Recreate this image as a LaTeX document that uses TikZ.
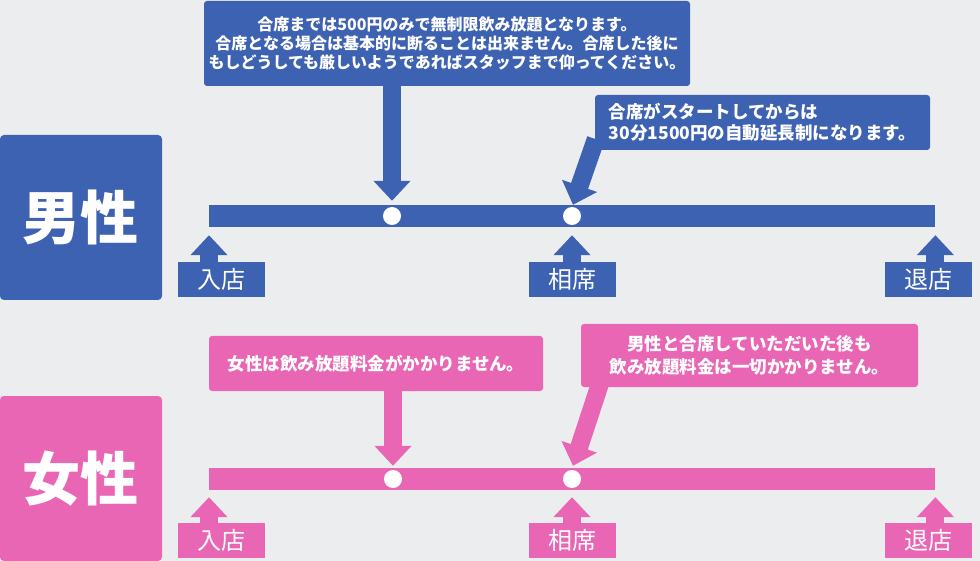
\documentclass[tikz,border=0pt]{standalone}
\usepackage{fontspec}
\newfontfamily\jp{Noto Sans CJK JP}
\usepackage{tikz}
\usetikzlibrary{ arrows.meta, calc, positioning }
\definecolor{mblue}{RGB}{62,98,178}
\definecolor{fpink}{RGB}{233,102,180}
\definecolor{bggray}{RGB}{236,237,239}
\tikzset{
every node/.style={inner sep=0pt, text=white}, % white text on coloured boxes
sexbox/.style={rounded corners=4pt, minimum width=162pt, minimum height=165pt, font=\jp\bfseries\fontsize{58}{58}\selectfont},
bar/.style={minimum width=726pt, minimum height=22pt},
dot/.style={circle, fill=white, minimum size=18pt},
note/.style={rounded corners=3pt, align=center, font=\jp\bfseries\fontsize{17.5}{22}\selectfont},
stepbox/.style={minimum width=87pt, minimum height=35pt, font=\jp\fontsize{24}{24}\selectfont},
fatarrow/.style={line width=18pt, -{Triangle[length=20pt, width=36pt]}},
}

\begin{document}
\begin{tikzpicture}[x=1pt, y=-1pt]
  \fill[bggray] (0,0) rectangle (980,561);

  % men
  \node[sexbox, fill=mblue] (male) at (81,217.5) {男性};
  \node[bar, fill=mblue, anchor=west] (mbar) at (209,216) {};
  \node[dot] (mdot1) at (392,216) {};
  \node[dot] (mdot2) at (572,216) {};
  \node[note, fill=mblue, minimum width=486pt, minimum height=85pt, font=\jp\bfseries\fontsize{16}{19}\selectfont] (mnote1) at (447,43.5)
    {合席までは500円のみで無制限飲み放題となります。\\合席となる場合は基本的に断ることは出来ません。合席した後に\\もしどうしても厳しいようであればスタッフまで仰ってください。};
  \node[note, fill=mblue, align=left, minimum width=335pt, minimum height=55pt, font=\jp\bfseries\fontsize{17.5}{21}\selectfont] (mnote2) at (762.5,122.5)
    {合席がスタートしてからは\\30分1500円の自動延長制になります。};
  \node[stepbox, fill=mblue] (min) at (221.5,279.5) {入店};
  \node[stepbox, fill=mblue] (mseat) at (572.5,279.5) {相席};
  \node[stepbox, fill=mblue] (mout) at (928.5,279.5) {退店};

  \draw[fatarrow, mblue] (mnote1.south -| mdot1) -- ($(mdot1 |- mbar.north)+(0,-4)$);
  \draw[fatarrow, mblue] ($(mnote2.south west)+(1,-11)$) -- ($(mdot2 |- mbar.north)+(1,0)$);
  \draw[fatarrow, mblue] (min.north -| mbar.west) -- ($(mbar.south west)+(0,8)$);
  \draw[fatarrow, mblue] (mseat.north -| mdot2) -- ($(mdot2 |- mbar.south)+(0,8)$);
  \draw[fatarrow, mblue] (mout.north -| mbar.east) -- ($(mbar.south east)+(0,8)$);

  % women
  \node[sexbox, fill=fpink] (female) at (81,478.5) {女性};
  \node[bar, fill=fpink, anchor=west] (fbar) at (209,479) {};
  \node[dot] (fdot1) at (393,479) {};
  \node[dot] (fdot2) at (572,479) {};
  \node[note, fill=fpink, minimum width=334pt, minimum height=55pt] (fnote1) at (376,363.5)
    {女性は飲み放題料金がかかりません。};
  \node[note, fill=fpink, minimum width=337pt, minimum height=63pt, font=\jp\bfseries\fontsize{17.5}{23}\selectfont] (fnote2) at (749.5,355.5)
    {男性と合席していただいた後も\\飲み放題料金は一切かかりません。};
  \node[stepbox, fill=fpink] (fin) at (221.5,540.5) {入店};
  \node[stepbox, fill=fpink] (fseat) at (572.5,540.5) {相席};
  \node[stepbox, fill=fpink] (fout) at (928.5,540.5) {退店};

  \draw[fatarrow, fpink] (fnote1.south -| fdot1) -- ($(fdot1 |- fbar.north)+(0,-2)$);
  \draw[fatarrow, fpink] ($(fnote2.south west)+(21,-9)$) -- ($(fdot2 |- fbar.north)+(1,-2)$);
  \draw[fatarrow, fpink] (fin.north -| fbar.west) -- ($(fbar.south west)+(0,7)$);
  \draw[fatarrow, fpink] (fseat.north -| fdot2) -- ($(fdot2 |- fbar.south)+(0,7)$);
  \draw[fatarrow, fpink] (fout.north -| fbar.east) -- ($(fbar.south east)+(0,7)$);
\end{tikzpicture}
\end{document}
